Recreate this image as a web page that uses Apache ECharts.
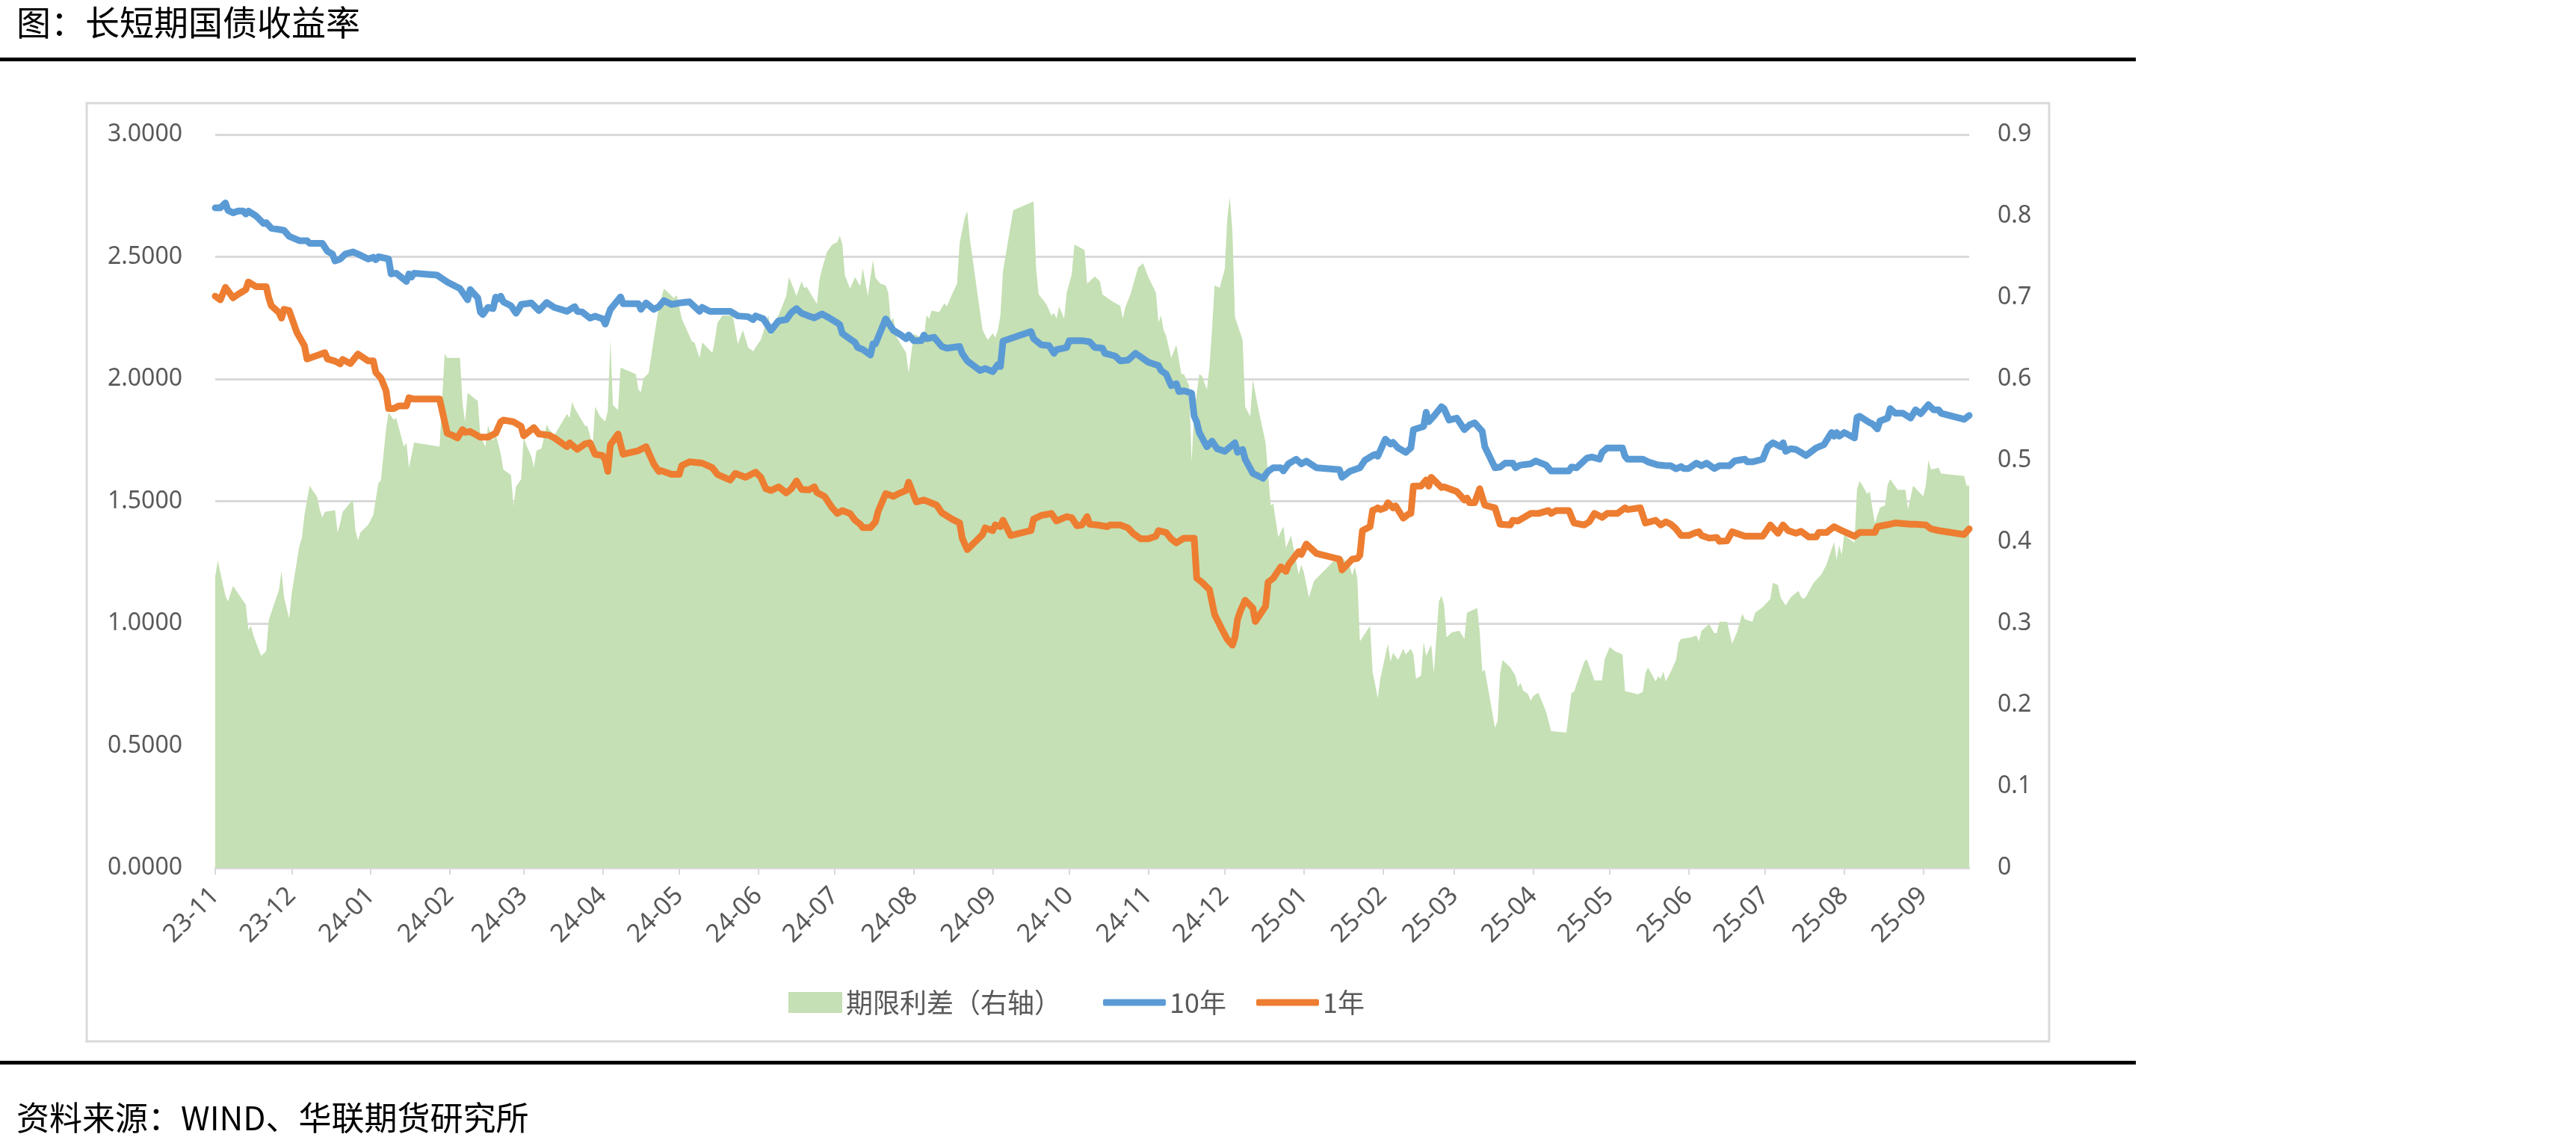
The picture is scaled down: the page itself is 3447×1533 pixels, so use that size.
<!DOCTYPE html>
<html>
<head>
<meta charset="utf-8">
<title>长短期国债收益率</title>
<script src="https://cdn.jsdelivr.net/npm/echarts@6.0.0/dist/echarts.min.js"></script>
<style>
html, body { margin: 0; padding: 0; background: #fff; }
#chart { width: 3447px; height: 1533px; }
</style>
</head>
<body>
<div id="chart"></div>
<script>
// 横轴：自 2023-11-01 起的自然日数
const startDate = Date.UTC(2023, 10, 1);
const dayMs = 86400000;
const lastDay = 688;

// 月份刻度
const monthTicks = ['2023-11-01', '2023-12-01', '2024-01-01', '2024-02-01', '2024-03-01', '2024-04-01',
	'2024-05-01', '2024-06-01', '2024-07-01', '2024-08-01', '2024-09-01', '2024-10-01', '2024-11-01',
	'2024-12-01', '2025-01-01', '2025-02-01', '2025-03-01', '2025-04-01', '2025-05-01', '2025-06-01',
	'2025-07-01', '2025-08-01', '2025-09-01'];
const monthLabels = ['23-11', '23-12', '24-01', '24-02', '24-03', '24-04', '24-05', '24-06', '24-07',
	'24-08', '24-09', '24-10', '24-11', '24-12', '25-01', '25-02', '25-03', '25-04', '25-05', '25-06',
	'25-07', '25-08', '25-09'];

// 左轴刻度 / 右轴刻度
const leftTicks = [0, 0.5, 1, 1.5, 2, 2.5, 3];
const rightTicks = [0, 0.1, 0.2, 0.3, 0.4, 0.5, 0.6, 0.7, 0.8, 0.9];

// 10年
const tenYDays = [
	0, 2, 4, 5, 7, 9, 11, 12, 13, 16, 19, 20, 22, 27, 29, 33, 36, 37, 42, 44, 46, 47, 49, 51, 54, 56, 60, 62, 63, 64, 68, 69, 71, 75, 76, 77, 78, 87, 91, 96, 99, 100, 103, 104, 105, 107, 109, 110, 111,
	112, 113, 116, 118, 119, 120, 124, 127, 130, 133, 138, 141, 142, 144, 147, 149, 152, 153, 155, 159, 160, 166, 167, 169, 172, 174, 176, 179, 182, 186, 190, 191, 194, 202, 205, 209, 211, 212, 215, 218, 221, 224,
	226, 228, 230, 232, 235, 238, 241, 244, 245, 246, 251, 252, 254, 257, 258, 259, 263, 266, 269, 271, 272, 274, 277, 278, 279, 282, 285, 287, 292, 293, 295, 300, 302, 305, 307, 308, 309, 320, 321, 324, 327, 329, 330, 334, 335, 340,
	343, 345, 348, 349, 353, 355, 358, 361, 366, 370, 371, 373, 375, 377, 378, 380, 383, 384, 385, 386, 389, 391, 393, 396, 400, 401, 403, 404, 407, 411, 413, 415, 418, 419, 421, 424, 426, 428, 432, 441, 442, 445, 449, 451, 454,
	455, 456, 459, 461, 462, 464, 467, 469, 470, 474, 475, 476, 478, 481, 482, 484, 487, 490, 492, 494, 497, 498, 502, 504, 506, 509, 510, 512, 516, 518, 522, 524, 531, 532, 534, 538, 540, 543, 544, 546, 552, 553, 554, 560, 562, 566,
	569, 571, 573, 575, 576, 578, 581, 583, 585, 588, 590, 594, 596, 600, 601, 603, 607, 609, 611, 614, 615, 616, 618, 620, 622, 624, 628, 631, 634, 635, 636, 637, 639, 643, 644, 645, 649, 650, 652, 653, 656, 657, 659, 662, 665, 667, 669, 672, 674, 676, 677, 686, 688
];
const tenY = [
	2.70, 2.70, 2.72, 2.69, 2.68, 2.687, 2.687, 2.675, 2.687, 2.667, 2.636, 2.64, 2.617, 2.608, 2.584, 2.566, 2.566, 2.555, 2.555, 2.523, 2.511, 2.483, 2.491, 2.511, 2.52, 2.511, 2.491, 2.498, 2.488, 2.50, 2.491, 2.43, 2.433, 2.399, 2.43, 2.417, 2.433, 2.425, 2.397, 2.37, 2.324, 2.366, 2.332, 2.274, 2.264, 2.293, 2.288, 2.335, 2.328,
	2.339, 2.316, 2.30, 2.269, 2.285, 2.305, 2.311, 2.28, 2.313, 2.293, 2.277, 2.296, 2.277, 2.274, 2.249, 2.257, 2.246, 2.225, 2.285, 2.336, 2.308, 2.308, 2.285, 2.311, 2.285, 2.296, 2.321, 2.305, 2.311, 2.316, 2.277, 2.293, 2.277, 2.277, 2.258, 2.255, 2.243, 2.258, 2.246, 2.199, 2.238, 2.243,
	2.272, 2.288, 2.269, 2.261, 2.25, 2.266, 2.249, 2.23, 2.222, 2.186, 2.149, 2.129, 2.121, 2.098, 2.144, 2.144, 2.246, 2.199, 2.18, 2.165, 2.18, 2.157, 2.157, 2.18, 2.165, 2.171, 2.133, 2.126, 2.133, 2.105, 2.074, 2.035, 2.043, 2.03, 2.059, 2.051, 2.155, 2.194, 2.165, 2.14, 2.137, 2.105, 2.12, 2.129, 2.157, 2.157,
	2.152, 2.129, 2.126, 2.105, 2.094, 2.074, 2.077, 2.105, 2.069, 2.055, 2.035, 2.02, 1.973, 1.981, 1.949, 1.952, 1.942, 1.848, 1.824, 1.781, 1.723, 1.746, 1.715, 1.704, 1.739, 1.70, 1.712, 1.672, 1.614, 1.594, 1.622, 1.637, 1.637, 1.624, 1.653, 1.672, 1.653, 1.664, 1.637, 1.629, 1.598, 1.622, 1.637, 1.668, 1.687,
	1.692, 1.684, 1.754, 1.734, 1.741, 1.718, 1.70, 1.718, 1.793, 1.806, 1.864, 1.825, 1.848, 1.887, 1.879, 1.832, 1.84, 1.793, 1.812, 1.821, 1.786, 1.723, 1.637, 1.64, 1.656, 1.656, 1.637, 1.648, 1.653, 1.665, 1.648, 1.624, 1.624, 1.64, 1.637, 1.676, 1.681, 1.672, 1.70, 1.718, 1.718, 1.684, 1.672, 1.672, 1.661, 1.648,
	1.645, 1.645, 1.633, 1.642, 1.634, 1.634, 1.656, 1.645, 1.656, 1.634, 1.645, 1.645, 1.665, 1.672, 1.661, 1.661, 1.672, 1.723, 1.739, 1.723, 1.739, 1.704, 1.715, 1.712, 1.70, 1.687, 1.718, 1.731, 1.781, 1.766, 1.781, 1.766, 1.781, 1.759, 1.843, 1.848, 1.821, 1.817, 1.796, 1.828, 1.84, 1.879, 1.86, 1.86, 1.84, 1.874, 1.858, 1.895, 1.874, 1.874, 1.86, 1.835, 1.851
];

// 1年
const oneYDays = [
	0, 2, 4, 7, 9, 12, 13, 16, 20, 21, 22, 25, 26, 27, 29, 32, 35, 36, 41, 43, 44, 47, 49, 50, 53, 56, 60, 62, 63, 65, 67, 68, 70, 72, 75, 76, 78, 88, 91, 93, 95, 97, 98, 100, 104, 107, 110,
	112, 113, 117, 120, 121, 125, 127, 131, 133, 138, 139, 142, 145, 147, 149, 152, 153, 154, 155, 158, 160, 166, 169, 172, 174, 175, 179, 182, 183, 186, 191, 195, 197, 202, 204, 208, 212, 214, 216, 218, 221, 224,
	226, 228, 230, 233, 235, 236, 239, 242, 244, 246, 249, 251, 253, 254, 257, 259, 260, 263, 266, 268, 271, 272, 275, 278, 280, 283, 285, 289, 292, 293, 295, 298, 301, 302, 305, 306, 308, 309, 312, 320, 321, 324, 328, 330, 334, 336, 338, 340,
	342, 343, 346, 350, 351, 355, 358, 360, 363, 366, 369, 370, 373, 375, 377, 380, 384, 385, 387, 390, 392, 395, 397, 399, 400, 401, 402, 404, 407, 408, 412, 413, 415, 418, 420, 421, 425, 426, 428, 432, 441, 442, 446, 448, 449, 450, 453, 454,
	455, 456, 457, 459, 460, 462, 463, 466, 468, 469, 470, 473, 475, 476, 477, 481, 482, 487, 490, 491, 492, 494, 496, 498, 502, 504, 508, 509, 511, 516, 519, 523, 524, 526, 531, 533, 537, 539, 541, 544, 546, 550, 553, 554, 559, 561, 565, 567,
	569, 571, 573, 575, 578, 580, 582, 583, 586, 589, 590, 593, 595, 600, 607, 610, 613, 615, 617, 620, 622, 625, 628, 629, 632, 635, 638, 643, 645, 651, 652, 657, 659, 665, 667, 671, 673, 676, 686, 688
];
const oneY = [
	2.339, 2.324, 2.375, 2.332, 2.347, 2.366, 2.397, 2.378, 2.378, 2.332, 2.30, 2.272, 2.249, 2.285, 2.28, 2.191, 2.136, 2.082, 2.10, 2.108, 2.082, 2.073, 2.062, 2.08, 2.063, 2.102, 2.074, 2.074, 2.027, 2.004, 1.952, 1.879, 1.879, 1.89, 1.89, 1.923, 1.918, 1.918, 1.778, 1.77, 1.759, 1.793, 1.782, 1.785, 1.762, 1.762, 1.778,
	1.825, 1.832, 1.825, 1.806, 1.768, 1.801, 1.775, 1.77, 1.759, 1.723, 1.739, 1.712, 1.734, 1.739, 1.692, 1.687, 1.668, 1.622, 1.731, 1.775, 1.692, 1.707, 1.723, 1.653, 1.622, 1.625, 1.61, 1.61, 1.646, 1.661, 1.656, 1.637, 1.61, 1.587, 1.614, 1.598, 1.619, 1.598, 1.551, 1.544, 1.559, 1.534,
	1.551, 1.583, 1.548, 1.547, 1.559, 1.536, 1.52, 1.473, 1.45, 1.462, 1.45, 1.422, 1.406, 1.392, 1.392, 1.416, 1.458, 1.531, 1.52, 1.531, 1.544, 1.578, 1.497, 1.505, 1.497, 1.484, 1.453, 1.427, 1.411, 1.349, 1.302, 1.333, 1.364, 1.391, 1.38, 1.403, 1.396, 1.422, 1.36, 1.38, 1.427, 1.442, 1.45, 1.419, 1.437, 1.432, 1.40, 1.403,
	1.437, 1.406, 1.403, 1.396, 1.403, 1.403, 1.391, 1.369, 1.346, 1.346, 1.357, 1.38, 1.372, 1.346, 1.33, 1.349, 1.349, 1.185, 1.169, 1.138, 1.037, 0.974, 0.935, 0.911, 0.943, 1.016, 1.048, 1.095, 1.063, 1.008, 1.07, 1.169, 1.185, 1.232, 1.213, 1.24, 1.294, 1.282, 1.325, 1.286, 1.263, 1.219, 1.263, 1.266, 1.279, 1.38, 1.396, 1.463,
	1.466, 1.473, 1.466, 1.473, 1.494, 1.473, 1.481, 1.431, 1.447, 1.45, 1.562, 1.562, 1.587, 1.562, 1.598, 1.556, 1.559, 1.54, 1.505, 1.513, 1.494, 1.494, 1.551, 1.484, 1.473, 1.406, 1.403, 1.422, 1.419, 1.45, 1.45, 1.462, 1.45, 1.462, 1.462, 1.411, 1.403, 1.416, 1.45, 1.434, 1.45, 1.45, 1.473, 1.466, 1.473, 1.411, 1.422, 1.403,
	1.416, 1.406, 1.387, 1.36, 1.36, 1.369, 1.375, 1.36, 1.349, 1.352, 1.336, 1.338, 1.375, 1.357, 1.357, 1.403, 1.369, 1.403, 1.38, 1.369, 1.377, 1.354, 1.354, 1.372, 1.372, 1.396, 1.38, 1.357, 1.372, 1.372, 1.396, 1.406, 1.411, 1.406, 1.406, 1.403, 1.387, 1.38, 1.364, 1.387
];

// 期限利差（右轴）
const spreadDays = [
	0, 1, 4, 5, 7, 12, 13, 14, 15, 18, 20, 21, 23, 25, 26, 27, 29, 30, 33, 34, 35, 37, 40, 41, 42, 43, 47, 48, 49, 50, 54, 55, 56, 57, 60, 62, 64, 65, 67, 68, 70, 71, 74, 75, 76, 78, 88, 90, 91, 96, 97, 98, 99, 103, 104, 106, 107, 109, 110,
	112, 113, 116, 117, 118, 120, 121, 122, 124, 125, 126, 128, 130, 131, 133, 138, 139, 140, 141, 145, 146, 147, 148, 149, 151, 153, 154, 155, 156, 158, 159, 165, 166, 167, 168, 170, 172, 174, 176, 180, 181, 183, 187, 188, 190, 191, 195, 196, 197, 199, 203, 205, 207, 209, 211, 212, 214, 217, 218, 219, 222, 224, 225,
	226, 228, 230, 231, 232, 236, 237, 238, 240, 242, 244, 245, 246, 247, 249, 251, 253, 254, 256, 258, 259, 261, 263, 264, 265, 266, 267, 271, 272, 274, 277, 278, 279, 280, 281, 284, 286, 287, 289, 291, 292, 294, 295, 296, 301, 303, 305, 306, 307, 308, 309, 313, 321, 322, 323, 326, 328, 329, 330, 331, 333, 334, 336, 337, 340,
	341, 342, 345, 347, 348, 352, 355, 356, 357, 359, 362, 364, 366, 369, 370, 371, 372, 373, 375, 377, 379, 380, 382, 383, 384, 386, 387, 389, 390, 391, 392, 394, 396, 397, 398, 399, 400, 403, 404, 406, 407, 409, 412, 414, 415, 417, 419, 420, 422, 425, 426, 427, 429, 431, 441, 444, 445, 446, 447, 448, 449, 453, 454,
	455, 456, 457, 460, 461, 462, 464, 466, 467, 469, 470, 471, 473, 474, 475, 477, 478, 480, 481, 482, 483, 485, 488, 490, 491, 495, 496, 497, 498, 502, 503, 504, 505, 508, 510, 511, 512, 513, 515, 516, 517, 519, 522, 524, 530, 532, 533, 537, 538, 540, 541, 544, 545, 547, 549, 552, 553, 558, 560, 561, 562, 565, 566, 567, 568,
	569, 571, 573, 574, 575, 579, 581, 582, 583, 586, 588, 589, 590, 593, 595, 597, 599, 600, 603, 604, 607, 610, 611, 613, 614, 616, 618, 621, 622, 623, 624, 627, 630, 632, 635, 636, 637, 638, 639, 640, 643, 644, 645, 646, 648, 649, 650, 651, 653, 655, 656, 657, 660, 663, 664, 666, 670, 671, 672, 673, 676, 677, 686, 687, 688
];
const spread = [
	0.358, 0.377, 0.334, 0.327, 0.346, 0.323, 0.292, 0.297, 0.285, 0.26, 0.266, 0.304, 0.323, 0.341, 0.365, 0.332, 0.306, 0.337, 0.395, 0.405, 0.433, 0.469, 0.455, 0.44, 0.43, 0.437, 0.439, 0.412, 0.423, 0.437, 0.452, 0.414, 0.402, 0.412, 0.421, 0.433, 0.472, 0.476, 0.538, 0.559, 0.55, 0.552, 0.517, 0.522, 0.491, 0.522, 0.517, 0.631, 0.626, 0.626, 0.571, 0.547, 0.583, 0.573, 0.53, 0.517, 0.543, 0.524, 0.533,
	0.508, 0.489, 0.482, 0.444, 0.468, 0.477, 0.529, 0.519, 0.505, 0.491, 0.512, 0.515, 0.544, 0.538, 0.531, 0.557, 0.552, 0.572, 0.564, 0.543, 0.542, 0.531, 0.515, 0.566, 0.554, 0.548, 0.561, 0.648, 0.568, 0.562, 0.614, 0.606, 0.587, 0.584, 0.601, 0.607, 0.648, 0.688, 0.711, 0.699, 0.703, 0.674, 0.646, 0.645, 0.626, 0.645, 0.632, 0.648, 0.669, 0.678, 0.678, 0.643, 0.66, 0.639, 0.634, 0.639, 0.648, 0.678, 0.653, 0.664, 0.686, 0.702, 0.725,
	0.718, 0.702, 0.72, 0.712, 0.713, 0.692, 0.721, 0.735, 0.756, 0.765, 0.768, 0.776, 0.765, 0.727, 0.711, 0.725, 0.714, 0.736, 0.702, 0.746, 0.724, 0.717, 0.715, 0.706, 0.671, 0.675, 0.653, 0.632, 0.607, 0.655, 0.651, 0.65, 0.678, 0.674, 0.684, 0.682, 0.693, 0.689, 0.704, 0.717, 0.767, 0.798, 0.806, 0.772, 0.66, 0.648, 0.656, 0.651, 0.66, 0.678, 0.732, 0.807, 0.818, 0.735, 0.704, 0.692, 0.678, 0.681, 0.674, 0.689, 0.674, 0.706, 0.729, 0.765, 0.76,
	0.758, 0.717, 0.726, 0.72, 0.704, 0.695, 0.69, 0.674, 0.688, 0.704, 0.737, 0.742, 0.725, 0.706, 0.669, 0.678, 0.66, 0.653, 0.626, 0.642, 0.606, 0.606, 0.592, 0.498, 0.558, 0.606, 0.604, 0.587, 0.615, 0.66, 0.715, 0.712, 0.735, 0.798, 0.823, 0.781, 0.676, 0.648, 0.566, 0.554, 0.599, 0.566, 0.522, 0.445, 0.447, 0.406, 0.419, 0.393, 0.408, 0.36, 0.372, 0.363, 0.332, 0.352, 0.384, 0.375, 0.37, 0.359, 0.37, 0.355, 0.278, 0.297, 0.24,
	0.225, 0.208, 0.232, 0.275, 0.253, 0.264, 0.255, 0.269, 0.262, 0.269, 0.262, 0.232, 0.236, 0.277, 0.26, 0.274, 0.239, 0.327, 0.334, 0.323, 0.283, 0.289, 0.291, 0.281, 0.313, 0.319, 0.29, 0.241, 0.243, 0.172, 0.18, 0.239, 0.255, 0.246, 0.236, 0.222, 0.227, 0.218, 0.213, 0.205, 0.211, 0.215, 0.192, 0.168, 0.166, 0.215, 0.216, 0.253, 0.256, 0.239, 0.23, 0.23, 0.256, 0.271, 0.266, 0.262, 0.217, 0.213, 0.216, 0.239, 0.246, 0.229, 0.235, 0.232, 0.241,
	0.229, 0.241, 0.255, 0.276, 0.281, 0.283, 0.285, 0.278, 0.291, 0.299, 0.288, 0.288, 0.302, 0.302, 0.275, 0.29, 0.312, 0.305, 0.302, 0.313, 0.32, 0.33, 0.35, 0.347, 0.332, 0.322, 0.332, 0.34, 0.333, 0.33, 0.333, 0.35, 0.36, 0.372, 0.40, 0.378, 0.396, 0.384, 0.409, 0.406, 0.399, 0.464, 0.475, 0.47, 0.459, 0.462, 0.442, 0.423, 0.442, 0.445, 0.47, 0.477, 0.464, 0.464, 0.44, 0.469, 0.456, 0.47, 0.50, 0.489, 0.491, 0.484, 0.481, 0.469, 0.469
];

const pairs = (days, vals) => days.map((d, i) => [d, vals[i]]);
// 月初对应的天数
const monthTickDays = monthTicks.map((s) => Math.round((Date.parse(s) - startDate) / dayMs));

let chart = echarts.init(document.getElementById("chart"));

const axisFont = "'Noto Sans', 'Open Sans', sans-serif";
const cjkFont = "'Noto Sans CJK SC', 'Noto Sans', sans-serif";
const labelColor = "#595959";
const gridColor = "#d9d9d9";

let option = {
	animation: false,
	backgroundColor: "#fff",
	graphic: [
		{
			type: "text",
			left: 22,
			top: 7,
			style: { text: "图：长短期国债收益率", font: "46px " + cjkFont, fill: "#000" },
		},
		{ type: "rect", shape: { x: 0, y: 77, width: 2858, height: 5 }, style: { fill: "#000" } },
		{
			type: "rect",
			shape: { x: 116, y: 138, width: 2626, height: 1255 },
			style: { fill: "none", stroke: gridColor, lineWidth: 3 },
		},
		{ type: "rect", shape: { x: 0, y: 1419, width: 2858, height: 5 }, style: { fill: "#000" } },
		{
			type: "text",
			left: 22,
			top: 1473,
			style: { text: "资料来源：WIND、华联期货研究所", font: "44px " + cjkFont, fill: "#000" },
		},
	],
	legend: [
		{
			data: [{ name: "期限利差（右轴）", icon: "rect" }],
			left: 1050,
			top: 1318,
			itemWidth: 72,
			itemHeight: 28,
			textStyle: { fontFamily: cjkFont, fontSize: 36, color: labelColor },
		},
		{
			data: [{ name: "10年", icon: "roundRect" }],
			left: 1471,
			top: 1318,
			itemWidth: 84,
			itemHeight: 9,
			textStyle: { fontFamily: cjkFont, fontSize: 36, color: labelColor },
		},
		{
			data: [{ name: "1年", icon: "roundRect" }],
			left: 1676,
			top: 1318,
			itemWidth: 84,
			itemHeight: 9,
			textStyle: { fontFamily: cjkFont, fontSize: 36, color: labelColor },
		},
	],
	grid: {
		left: 288,
		right: 812,
		top: 180,
		bottom: 372,
		outerBoundsMode: "none",
		containLabel: false,
	},
	xAxis: {
		type: "value",
		min: 0,
		max: lastDay,
		axisLine: { onZero: false, lineStyle: { color: gridColor, width: 3 } },
		axisTick: {
			show: true,
			customValues: monthTickDays,
			length: 9,
			lineStyle: { color: gridColor, width: 2 },
		},
		axisLabel: {
			customValues: monthTickDays,
			rotate: 45,
			margin: 32,
			fontFamily: axisFont,
			fontSize: 34,
			color: labelColor,
			formatter: (v) => {
				const i = monthTickDays.indexOf(Math.round(v));
				return i >= 0 ? monthLabels[i] : "";
			},
		},
		splitLine: { show: false },
	},
	yAxis: [
		{
			type: "value",
			min: leftTicks[0],
			max: leftTicks[leftTicks.length - 1],
			interval: 0.5,
			axisLine: { show: false },
			axisTick: { show: false },
			axisLabel: {
				margin: 44,
				fontFamily: axisFont,
				fontSize: 32,
				color: labelColor,
				formatter: (v) => v.toFixed(4),
			},
			splitLine: { lineStyle: { color: gridColor, width: 3 } },
		},
		{
			type: "value",
			min: rightTicks[0],
			max: rightTicks[rightTicks.length - 1],
			interval: 0.1,
			axisLine: { show: false },
			axisTick: { show: false },
			axisLabel: {
				margin: 38,
				fontFamily: axisFont,
				fontSize: 32,
				color: labelColor,
				formatter: (v) => (Math.abs(v) < 1e-9 ? "0" : v.toFixed(1)),
			},
			splitLine: { show: false },
		},
	],
	series: [
		{
			name: "期限利差（右轴）",
			type: "line",
			yAxisIndex: 1,
			data: pairs(spreadDays, spread),
			symbol: "none",
			itemStyle: { color: "#c5e0b4" },
			lineStyle: { width: 0, color: "#c5e0b4" },
			areaStyle: { color: "#c5e0b4", opacity: 1 },
			z: 1,
		},
		{
			name: "10年",
			type: "line",
			yAxisIndex: 0,
			data: pairs(tenYDays, tenY),
			symbol: "none",
			itemStyle: { color: "#5b9bd5" },
			lineStyle: { width: 9, color: "#5b9bd5", cap: "round", join: "round" },
			z: 3,
		},
		{
			name: "1年",
			type: "line",
			yAxisIndex: 0,
			data: pairs(oneYDays, oneY),
			symbol: "none",
			itemStyle: { color: "#ed7d31" },
			lineStyle: { width: 9, color: "#ed7d31", cap: "round", join: "round" },
			z: 3,
		},
	],
};

chart.setOption(option);
</script>
</body>
</html>
